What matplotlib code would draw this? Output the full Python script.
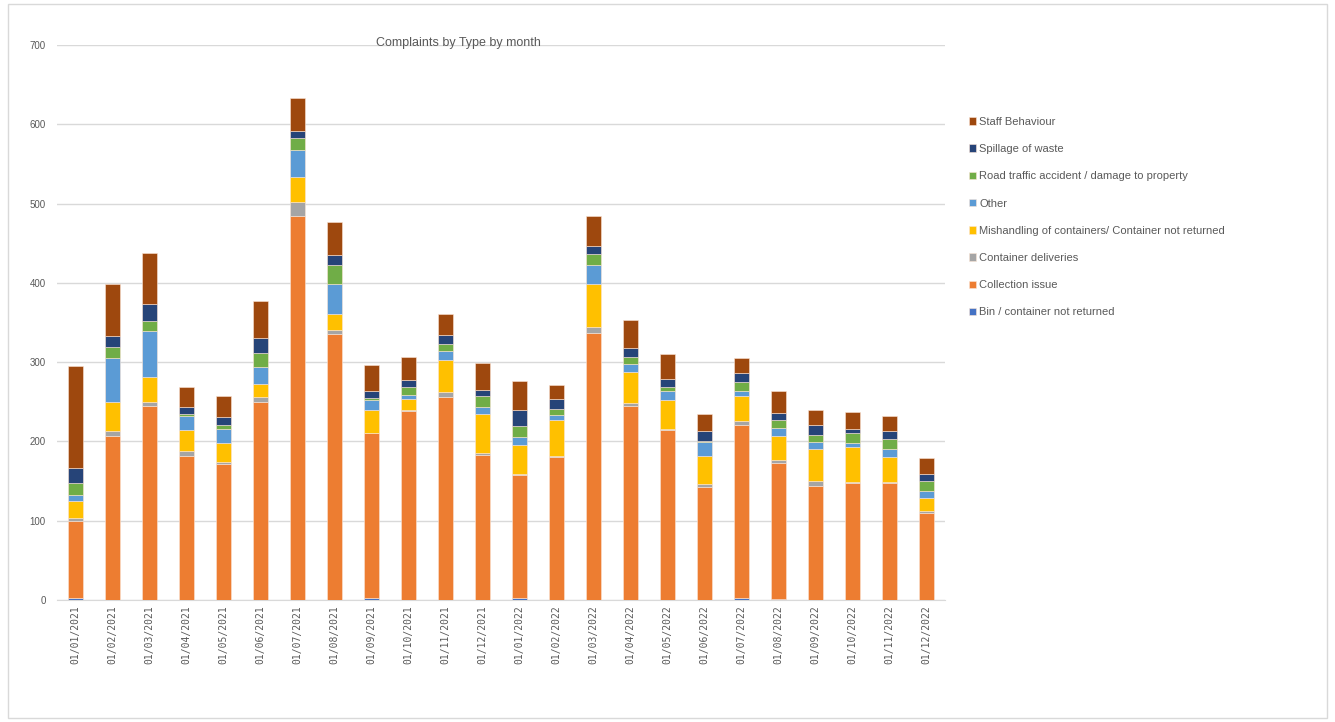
import numpy as np
import matplotlib
matplotlib.use("Agg")
import matplotlib.pyplot as plt
from matplotlib.patches import Rectangle

plt.rcParams['font.family'] = ['Liberation Sans Narrow', 'Liberation Sans', 'DejaVu Sans']

# months
months = ["01/01/2021", "01/02/2021", "01/03/2021", "01/04/2021", "01/05/2021", "01/06/2021",
          "01/07/2021", "01/08/2021", "01/09/2021", "01/10/2021", "01/11/2021", "01/12/2021",
          "01/01/2022", "01/02/2022", "01/03/2022", "01/04/2022", "01/05/2022", "01/06/2022",
          "01/07/2022", "01/08/2022", "01/09/2022", "01/10/2022", "01/11/2022", "01/12/2022"]

# complaint counts per type (bottom to top of stack)
bin_not_returned = [3, 0, 0, 0, 0, 0, 0, 0, 2, 0, 0, 0, 2, 0, 0, 0, 0, 0, 3, 1, 0, 0, 0, 0]
collection_issue = [97, 207, 245, 182, 171, 250, 484, 336, 208, 238, 256, 183,
                    156, 180, 337, 245, 214, 143, 218, 172, 144, 148, 148, 110]
container_deliveries = [4, 6, 5, 6, 3, 6, 18, 5, 1, 1, 6, 2, 1, 1, 7, 4, 2, 3, 5, 4, 6, 1, 1, 2]
mishandling = [21, 37, 31, 26, 24, 16, 32, 20, 28, 14, 41, 50, 37, 46, 55, 38, 36, 36, 31, 30, 41, 44, 31, 17]
other = [7, 55, 58, 18, 18, 22, 34, 37, 13, 5, 11, 8, 9, 6, 24, 11, 12, 17, 6, 10, 8, 5, 10, 8]
road_accident = [16, 14, 13, 3, 5, 17, 15, 25, 3, 11, 9, 14, 15, 8, 14, 8, 5, 2, 12, 10, 9, 12, 13, 13]
spillage = [18, 14, 21, 9, 10, 19, 8, 12, 8, 8, 11, 8, 20, 13, 9, 12, 10, 12, 11, 9, 13, 6, 10, 9]
staff_behaviour = [129, 66, 65, 24, 26, 47, 42, 42, 34, 29, 27, 34, 36, 17, 38, 35, 31, 21, 19, 28, 19, 21, 19, 20]

series = [
    ("Bin / container not returned", bin_not_returned, "#4472C4"),
    ("Collection issue", collection_issue, "#ED7D31"),
    ("Container deliveries", container_deliveries, "#A5A5A5"),
    ("Mishandling of containers/ Container not returned", mishandling, "#FFC000"),
    ("Other", other, "#5B9BD5"),
    ("Road traffic accident / damage to property", road_accident, "#70AD47"),
    ("Spillage of waste", spillage, "#264478"),
    ("Staff Behaviour", staff_behaviour, "#9E480E"),
]

fig = plt.figure(figsize=(13.35, 7.22), dpi=100)
ax = fig.add_axes([0.0427, 0.169, 0.665, 0.7687])

x = np.arange(len(months))
bottom = np.zeros(len(months))
for name, vals, col in series:
    vals = np.array(vals)
    ax.bar(x, vals, 0.4, bottom=bottom, color=col, label=name,
           edgecolor="#fbe5d6", linewidth=0.4, zorder=3)
    bottom += vals

ax.set_xlim(-0.5, len(months) - 0.5)
ax.set_ylim(0, 700)
ax.set_yticks(range(0, 701, 100))
ax.grid(axis="y", color="#d9d9d9", linewidth=1, zorder=0)
for s in ["top", "right", "left"]:
    ax.spines[s].set_visible(False)
ax.spines["bottom"].set_color("#d9d9d9")
ax.tick_params(axis="both", length=0, colors="#595959", labelsize=7)
ax.tick_params(axis="y", pad=8)
ax.set_xticks(x)
ax.set_xticklabels(months, rotation=90, fontfamily="DejaVu Sans Mono", fontsize=7)

ax.text(0.452, 0.993, "Complaints by Type by month", transform=ax.transAxes,
        ha="center", va="bottom", fontsize=9, color="#595959")

handles, labels = ax.get_legend_handles_labels()
leg = fig.legend(handles[::-1], labels[::-1], loc="upper left", bbox_to_anchor=(0.718, 0.852),
                 frameon=False, fontsize=8, labelcolor="#595959", handlelength=0.65,
                 handleheight=0.65, handletextpad=0.3, labelspacing=1.55)

fig.patches.append(Rectangle((0.006, 0.006), 0.988, 0.988, transform=fig.transFigure,
                             fill=False, edgecolor="#d9d9d9", linewidth=1))

fig.savefig("out.png", dpi=100)
